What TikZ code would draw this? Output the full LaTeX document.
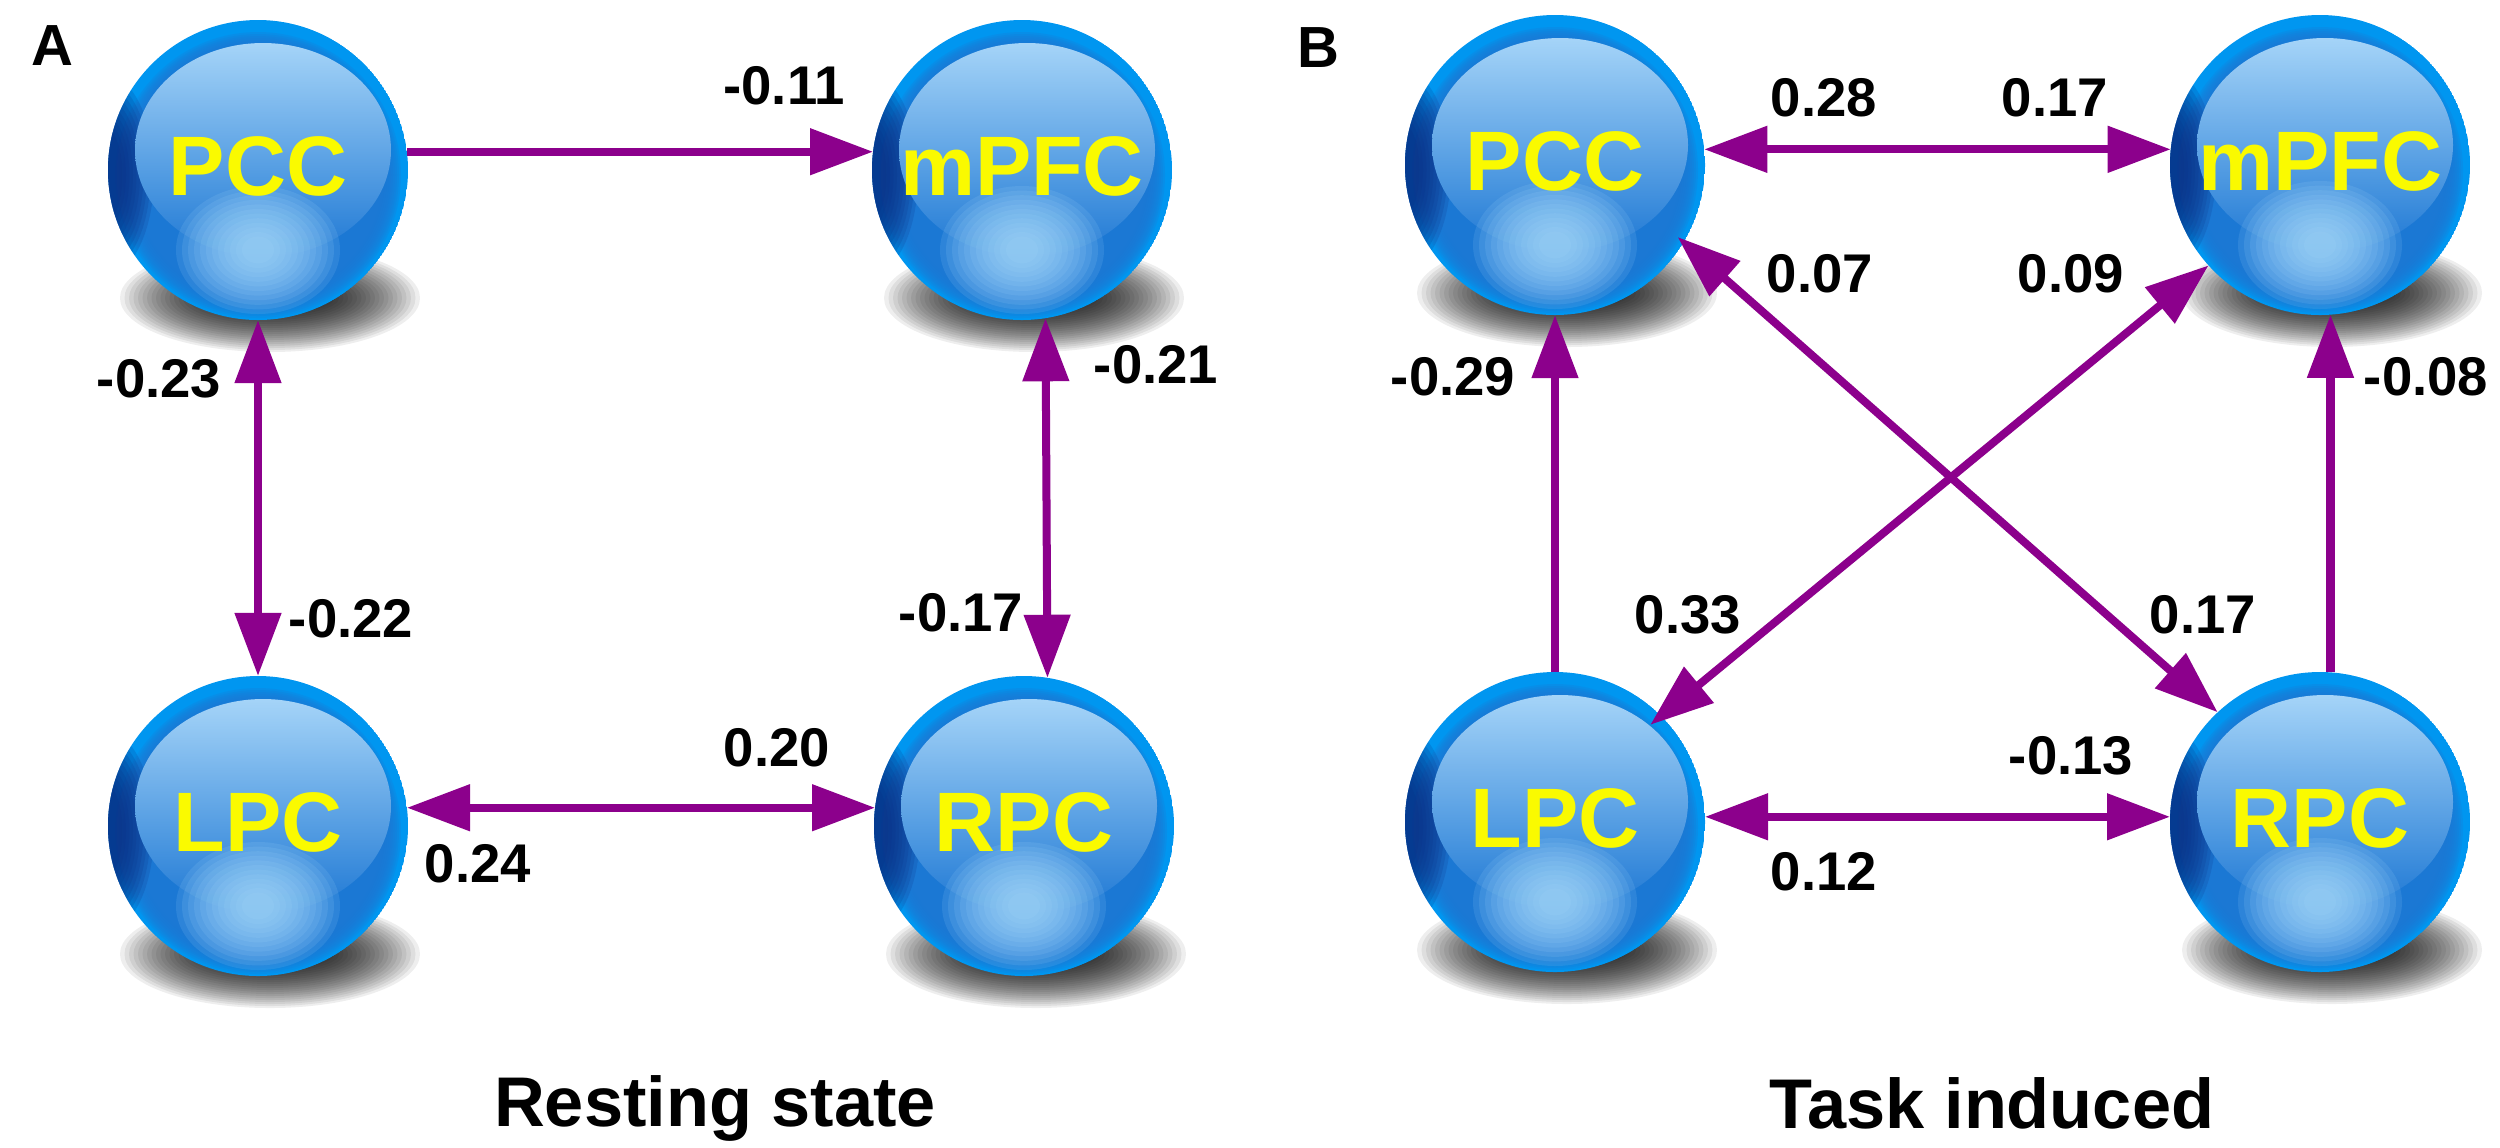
\documentclass[tikz,border=0pt]{standalone}
\usepackage{fontspec}
\setmainfont{Liberation Sans}
\usetikzlibrary{arrows.meta,calc}

\definecolor{rimblue}{RGB}{0,150,240}
\definecolor{midblue}{RGB}{30,120,212}
\definecolor{dkblue}{RGB}{10,45,130}
\definecolor{hltop}{RGB}{165,212,248}
\definecolor{glowc}{RGB}{170,220,252}
\definecolor{arrowc}{RGB}{140,0,140}
\definecolor{balltext}{RGB}{250,250,0}

\tikzset{
  ball/.style={circle, minimum size=3cm, inner sep=0pt, outer sep=0pt,
    text=balltext, font=\fontsize{24}{24}\selectfont\bfseries},
  lab/.style={inner sep=0pt, font=\fontsize{15.5}{16}\selectfont\bfseries},
  ttl/.style={inner sep=0pt, anchor=base, font=\fontsize{20}{22}\selectfont\bfseries},
  panel/.style={inner sep=0pt, font=\fontsize{16.5}{18}\selectfont\bfseries},
  tipA/.tip={Triangle[length=0.63cm,width=0.45cm]},
  arr/.style={draw=arrowc, line width=0.08cm, -tipA},
  darr/.style={draw=arrowc, line width=0.08cm, tipA-tipA},
}

\newcommand\brainball[4]{%
  \begin{scope}[shift={(#2,#3)}]
    \foreach \k in {0,...,19}{
      \fill[black, fill opacity=0.065] (12,128) ellipse ({150-4.5*\k} and {54-2*\k});
    }
    \begin{scope}
      \clip (0,0) circle (150);
      \fill[rimblue] (0,0) circle (150);
      \foreach \k in {0,...,9}{
        \fill[midblue, fill opacity=0.25] (0,5) circle ({143-2*\k});
      }
      \foreach \k in {0,...,9}{
        \fill[dkblue, fill opacity=0.17] (-152,5) ellipse ({48-3.5*\k} and {100-6*\k});
      }
      \shade[top color=hltop, bottom color=midblue] (5,-20) ellipse (128 and 107);
      \foreach \k in {0,...,11}{
        \fill[glowc, fill opacity=0.13] (0,80) ellipse ({82-6*\k} and {64-4.6*\k});
      }
    \end{scope}
  \end{scope}
  \node[ball] (#1) at (#2,#3) {\raisebox{0.08cm}{#4}};
}

\begin{document}
\begin{tikzpicture}[x=0.01cm,y=-0.01cm]
\path[use as bounding box, fill=white] (0,0) rectangle (2500,1147);

% Panel A
\brainball{PCCa}{258}{170}{PCC}
\brainball{mPFCa}{1022}{170}{mPFC}
\brainball{LPCa}{258}{826}{LPC}
\brainball{RPCa}{1024}{826}{RPC}

% Panel B
\brainball{PCCb}{1555}{165}{PCC}
\brainball{mPFCb}{2320}{165}{mPFC}
\brainball{LPCb}{1555}{822}{LPC}
\brainball{RPCb}{2320}{822}{RPC}

% connectors A
\draw[arr] (PCCa.7) -- (mPFCa.173);
\draw[darr] (PCCa.south) -- (LPCa.north);
\draw[darr] (mPFCa.-81) -- (RPCa.81);
\draw[darr] (LPCa.7) -- (RPCa.173);

% connectors B
\draw[darr] (PCCb.6) -- (mPFCb.174);
\draw[arr] (LPCb.north) -- (PCCb.south);
\draw[arr] (RPCb.86) -- (mPFCb.-86);
\draw[darr] (LPCb.2) -- (RPCb.178);
\draw[darr, shorten <=-0.08cm] (PCCb.-31) -- (RPCb.133);
\draw[darr, shorten >=-0.14cm] (mPFCb.222) -- (LPCb.45);

% labels A
\node[panel] (pA) at (52,46) {A};
\node[lab] (a1) at (784,86) {-0.11};
\node[lab] (a2) at (159,379) {-0.23};
\node[lab] (a3) at (1156,365) {-0.21};
\node[lab] (a4) at (351,619) {-0.22};
\node[lab] (a5) at (961,613) {-0.17};
\node[lab] (a6) at (777,748) {0.20};
\node[lab] (a7) at (478,864) {0.24};
\node[ttl] (tA) at (715,1126) {Resting state};

% labels B
\node[panel] (pB) at (1318,48) {B};
\node[lab] (b1) at (1824,98) {0.28};
\node[lab] (b2) at (2055,98) {0.17};
\node[lab] (b3) at (1820,274) {0.07};
\node[lab] (b4) at (2071,274) {0.09};
\node[lab] (b5) at (1453,377) {-0.29};
\node[lab] (b6) at (2426,377) {-0.08};
\node[lab] (b7) at (1688,615) {0.33};
\node[lab] (b8) at (2203,615) {0.17};
\node[lab] (b9) at (2071,756) {-0.13};
\node[lab] (b10) at (1824,872) {0.12};
\node[ttl] (tB) at (1992,1128) {Task induced};
\end{tikzpicture}
\end{document}
